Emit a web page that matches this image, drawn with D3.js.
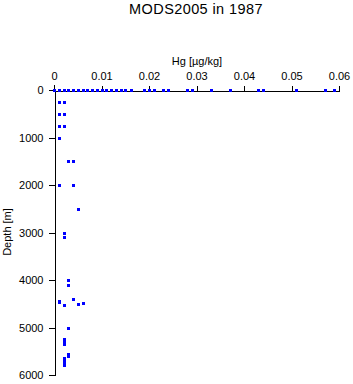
<!DOCTYPE html>
<html><head><meta charset="utf-8">
<script src="https://cdn.jsdelivr.net/npm/d3@7"></script>
<style>
html,body{margin:0;padding:0;background:#fff;}
text{font-family:"Liberation Sans",Arial,Helvetica,sans-serif;fill:#000;}
</style></head>
<body>
<svg id="c" width="353" height="384"></svg>
<script>
const title = "MODS2005 in 1987";
const xLabel = "Hg [\u00b5g/kg]";
const yLabel = "Depth [m]";
const xTicks = [0, 0.01, 0.02, 0.03, 0.04, 0.05, 0.06];
const xTickLabels = ["0", "0.01", "0.02", "0.03", "0.04", "0.05", "0.06"];
const yTicks = [0, 1000, 2000, 3000, 4000, 5000, 6000];
const yTickLabels = ["0", "1000", "2000", "3000", "4000", "5000", "6000"];

const hgValues = [
  0, 0.001, 0.002, 0.003, 0.004, 0.005, 0.006, 0.007, 0.008, 0.009, 0.010,
  0.011, 0.012, 0.013, 0.014, 0.015, 0.0162, 0.019, 0.020, 0.021, 0.023, 0.024,
  0.028, 0.029, 0.033, 0.037, 0.043, 0.044, 0.051, 0.057, 0.059,
  0.001, 0.002, 0.001, 0.002, 0.001, 0.002, 0.001,
  0.003, 0.004, 0.001, 0.004, 0.005,
  0.002, 0.002, 0.003, 0.003,
  0.004, 0.001, 0.001, 0.002, 0.005, 0.006,
  0.003, 0.002, 0.002, 0.002, 0.003, 0.003,
  0.002, 0.002, 0.002, 0.002
];
const depthValues = [
  0, 0, 0, 0, 0, 0, 0, 0, 0, 0, 0,
  0, 0, 0, 0, 0, 0, 0, 0, 0, 0, 0,
  0, 0, 0, 0, 0, 0, 0, 0, 0,
  250, 250, 500, 500, 750, 750, 1000,
  1500, 1500, 2000, 2000, 2500,
  3000, 3100, 4000, 4100,
  4400, 4440, 4470, 4530, 4500, 4490,
  5000, 5250, 5300, 5350, 5550, 5600,
  5650, 5700, 5750, 5780
];

const svg = d3.select("#c");
const x = d3.scaleLinear().domain([0, 0.06]).range([54, 339]);
const y = d3.scaleLinear().domain([0, 6000]).range([90, 375]);

svg.append("text").attr("x", 196).attr("y", 14).attr("text-anchor", "middle")
  .style("font-size", "14.5px").style("letter-spacing", "0.4px").text(title);
svg.append("text").attr("x", 197).attr("y", 65).attr("text-anchor", "middle")
  .style("font-size", "11px").text(xLabel);
svg.append("text").attr("transform", "translate(11,232) rotate(-90)").attr("text-anchor", "middle")
  .style("font-size", "11px").text(yLabel);

const xAxis = d3.axisTop(x).tickValues(xTicks).tickFormat((d, i) => xTickLabels[i])
  .tickSize(5).tickSizeOuter(0).tickPadding(6);
const gx = svg.append("g").attr("transform", "translate(0,90.5)").call(xAxis);
const yAxis = d3.axisLeft(y).tickValues(yTicks).tickFormat((d, i) => yTickLabels[i])
  .tickSize(6).tickSizeOuter(0).tickPadding(5);
const gy = svg.append("g").attr("transform", "translate(54.5,0)").call(yAxis);
[gx, gy].forEach(g => {
  g.selectAll("path,line").attr("stroke", "#000").attr("stroke-width", 1).attr("shape-rendering", "crispEdges");
  g.selectAll("text").style("font-size", "11px").attr("font-family", null).attr("fill", "#000");
});
// extend vertical axis slightly above the top axis line
svg.append("line").attr("x1", 54.5).attr("x2", 54.5).attr("y1", 85).attr("y2", 91)
  .attr("stroke", "#000").attr("shape-rendering", "crispEdges");

svg.append("g").selectAll("rect").data(hgValues.map((v, i) => [v, depthValues[i]]))
  .join("rect")
  .attr("x", d => Math.round(x(d[0])) - 1)
  .attr("y", d => Math.round(y(d[1])) - 1)
  .attr("width", 3).attr("height", 3)
  .attr("fill", "#0000ff");
</script>
</body></html>
